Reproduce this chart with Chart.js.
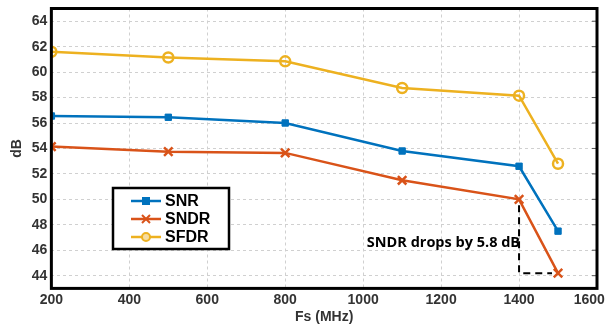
<!DOCTYPE html>
<html>
<head>
<meta charset="utf-8">
<script src="https://cdn.jsdelivr.net/npm/chart.js@4/dist/chart.umd.min.js"></script>
<style>
  html, body { margin: 0; padding: 0; background: #fff; }
  #wrap { width: 607px; height: 326px; }
</style>
</head>
<body>
<div id="wrap"><canvas id="myChart"></canvas></div>
<script>
// sampling frequencies (MHz)
const fs = [200, 500, 800, 1100, 1400, 1500];
// measured values (dB)
const snr  = [56.55, 56.45, 56.0, 53.8, 52.6, 47.5];
const sndr = [54.15, 53.75, 53.65, 51.5, 50.0, 44.2];
const sfdr = [61.6, 61.15, 60.85, 58.75, 58.15, 52.8];
const yTicks = [44, 46, 48, 50, 52, 54, 56, 58, 60, 62, 64];

const blue = '#0072BD', orange = '#D95319', yellow = '#EDB120';

function pts(ys) {
  return fs.map((x, i) => ({ x: x, y: ys[i] }));
}

// frame, legend box and the SNDR drop note
const extras = {
  id: 'extras',
  afterDraw(c) {
    const ctx = c.ctx, a = c.chartArea;
    const xs = c.scales.x, ys = c.scales.y;
    ctx.save();

    // dashed bracket for the drop
    ctx.strokeStyle = '#000';
    ctx.lineWidth = 2;
    ctx.setLineDash([7, 5]);
    ctx.beginPath();
    ctx.moveTo(xs.getPixelForValue(fs[4]), ys.getPixelForValue(sndr[4]) + 6);
    ctx.lineTo(xs.getPixelForValue(fs[4]), ys.getPixelForValue(sndr[5]));
    ctx.lineTo(xs.getPixelForValue(fs[5]) - 6, ys.getPixelForValue(sndr[5]));
    ctx.stroke();
    ctx.setLineDash([]);

    ctx.fillStyle = '#000';
    ctx.font = 'bold 14.5px "Open Sans", sans-serif';
    ctx.textAlign = 'center';
    ctx.textBaseline = 'middle';
    ctx.fillText('SNDR drops by 5.8 dB', xs.getPixelForValue(1206), ys.getPixelForValue(46.6));

    // right side inner ticks, matlab style
    ctx.strokeStyle = '#555';
    ctx.lineWidth = 1;
    yTicks.forEach(v => {
      const y = ys.getPixelForValue(v);
      ctx.beginPath();
      ctx.moveTo(a.right - 5, y);
      ctx.lineTo(a.right, y);
      ctx.stroke();
    });

    // plot frame
    ctx.lineWidth = 3;
    ctx.strokeStyle = '#000';
    ctx.strokeRect(a.left, a.top, a.right - a.left, a.bottom - a.top);

    // legend
    const lx = 113, ly = 188, lw = 116, lh = 61;
    ctx.fillStyle = '#fff';
    ctx.fillRect(lx, ly, lw, lh);
    ctx.lineWidth = 2.5;
    ctx.strokeRect(lx, ly, lw, lh);
    const items = [['SNR', blue, 'sq'], ['SNDR', orange, 'x'], ['SFDR', yellow, 'o']];
    items.forEach((it, i) => {
      const y = ly + 13 + i * 18;
      ctx.strokeStyle = it[1];
      ctx.fillStyle = it[1];
      ctx.lineWidth = 2.5;
      ctx.beginPath();
      ctx.moveTo(lx + 18, y);
      ctx.lineTo(lx + 48, y);
      ctx.stroke();
      const cx = lx + 33;
      if (it[2] === 'sq') {
        ctx.fillRect(cx - 4, y - 4, 8, 8);
      } else if (it[2] === 'x') {
        ctx.lineWidth = 2;
        ctx.beginPath();
        ctx.moveTo(cx - 4, y - 4); ctx.lineTo(cx + 4, y + 4);
        ctx.moveTo(cx + 4, y - 4); ctx.lineTo(cx - 4, y + 4);
        ctx.stroke();
      } else {
        ctx.lineWidth = 2;
        ctx.fillStyle = '#f6dca0';
        ctx.beginPath();
        ctx.arc(cx, y, 4, 0, Math.PI * 2);
        ctx.fill();
        ctx.stroke();
      }
      ctx.fillStyle = '#000';
      ctx.font = 'bold 16px "Liberation Sans", Arial, sans-serif';
      ctx.textAlign = 'left';
      ctx.textBaseline = 'middle';
      ctx.fillText(it[0], lx + 52, y + 1);
    });
    ctx.restore();
  }
};

const tickFont = { family: '"Liberation Sans", Arial, sans-serif', size: 14, weight: 'bold' };

new Chart(document.getElementById('myChart'), {
  type: 'line',
  data: {
    datasets: [
      {
        label: 'SNR', data: pts(snr),
        borderColor: blue, backgroundColor: blue,
        borderWidth: 2.5, pointStyle: 'rect', pointRadius: 4.5, pointBorderWidth: 1
      },
      {
        label: 'SNDR', data: pts(sndr),
        borderColor: orange, backgroundColor: orange,
        borderWidth: 2.5, pointStyle: 'crossRot', pointRadius: 6, pointBorderWidth: 2.5
      },
      {
        label: 'SFDR', data: pts(sfdr),
        borderColor: yellow, backgroundColor: 'rgba(255,255,255,0)',
        borderWidth: 2.5, pointStyle: 'circle', pointRadius: 5, pointBorderWidth: 2.5
      }
    ]
  },
  options: {
    responsive: true,
    maintainAspectRatio: false,
    animation: false,
    layout: { padding: { top: 8, right: 10, left: 9, bottom: 0 } },
    plugins: { legend: { display: false }, tooltip: { enabled: false } },
    scales: {
      x: {
        type: 'linear', min: 200, max: 1600,
        afterFit(s) { s.paddingRight = 0; s.paddingLeft = 0; s.height -= 2; },
        ticks: { stepSize: 200, color: '#333', font: tickFont, padding: 3, maxRotation: 0,
                 // last label pulled in so it stays on the canvas
                 callback: v => v === 1600 ? '1600    ' : String(v) },
        grid: { color: '#d0d0d0', tickLength: 0 },
        border: { dash: [3, 3], display: false },
        title: { display: true, text: 'Fs (MHz)', color: '#333', font: tickFont, padding: { top: 0, bottom: 0 } }
      },
      y: {
        min: 43, max: 65,
        afterBuildTicks(s) { s.ticks = yTicks.map(v => ({ value: v })); },
        afterFit(s) { s.paddingTop = 0; s.paddingBottom = 0; },
        ticks: { color: '#333', font: tickFont, padding: 4 },
        grid: { color: '#d0d0d0', tickLength: 0 },
        border: { dash: [3, 3], display: false },
        title: { display: true, text: 'dB', color: '#333', font: tickFont, padding: { top: 0, bottom: 2 } }
      }
    }
  },
  plugins: [extras]
});
</script>
</body>
</html>
